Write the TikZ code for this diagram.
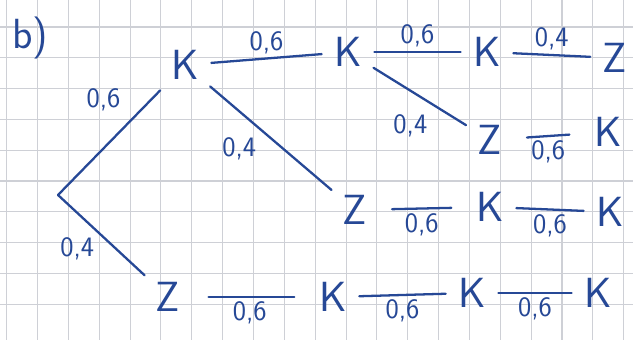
\documentclass[tikz,border=0pt]{standalone}
\usepackage{tikz}
\usetikzlibrary{positioning}
\definecolor{ink}{RGB}{38,72,150}
\definecolor{paper}{RGB}{206,208,214}

\begin{document}
\begin{tikzpicture}[x=0.02cm, y=-0.02cm,
  st/.style={text=ink, font=\sffamily\fontsize{24}{24}\selectfont, inner sep=4pt},
  pr/.style={text=ink, font=\sffamily\fontsize{16}{16}\selectfont, inner sep=2pt},
  br/.style={draw=ink, line width=1.3pt, line cap=round, shorten <=3pt, shorten >=3pt}]

% squared paper
\fill[white] (0,0) rectangle (633,340);
\useasboundingbox (0,0) rectangle (633,340);
\foreach \gx in {0,...,20}
  \draw[paper, line width=0.6pt] ({6.7+30.85*\gx},0) -- ({6.7+30.85*\gx},340);
\foreach \gy in {0,...,10}
  \draw[paper, line width=0.6pt] (0,{-3.8+30.8*\gy}) -- (633,{-3.8+30.8*\gy});

\node[st] (title) at (30,38) {b)};

% tree
\coordinate (root) at (58,195);
\node[st] (k1) at (185,65)  {K};
\node[st] (z1) at (168,297) {Z};
\node[st] (k2) at (348,52)  {K};
\node[st] (z2) at (355,210) {Z};
\node[st] (k3) at (487,52)  {K};
\node[st] (z3) at (490,140) {Z};
\node[st] (z4) at (615,58)  {Z};
\node[st] (k4) at (608,132) {K};
\node[st] (k5) at (490,207) {K};
\node[st] (k6) at (610,212) {K};
\node[st] (k7) at (333,297) {K};
\node[st] (k8) at (472,293) {K};
\node[st] (k9) at (598,293) {K};

\draw[br, shorten <=0pt] (root) -- node[pr, above left=2pt and 4pt, pos=0.7] {0,6} (k1);
\draw[br, shorten <=0pt] (root) -- node[pr, below left=0pt and 0pt, pos=0.45] {0,4} (z1);
\draw[br] (k1) -- node[pr, above] {0,6} (k2);
\draw[br] (k1) -- node[pr, below left=0pt and 2pt, pos=0.45] {0,4} (z2);
\draw[br] (k2) -- node[pr, below left=6pt and -4pt, pos=0.55] {0,4} (z3);
\draw[br] (k2) -- node[pr, above] {0,6} (k3);
\draw[br] (k3) -- node[pr, above] {0,4} (z4);
\draw[br, shorten <=10pt, shorten >=10pt] (z3) -- node[pr, below] {0,6} (k4);
\draw[br, shorten <=10pt, shorten >=10pt] (z2) -- node[pr, below] {0,6} (k5);
\draw[br] (k5) -- node[pr, below] {0,6} (k6);
\draw[br, shorten <=12pt, shorten >=10pt] (z1) -- node[pr, below] {0,6} (k7);
\draw[br] (k7) -- node[pr, below] {0,6} (k8);
\draw[br] (k8) -- node[pr, below] {0,6} (k9);
\end{tikzpicture}
\end{document}
